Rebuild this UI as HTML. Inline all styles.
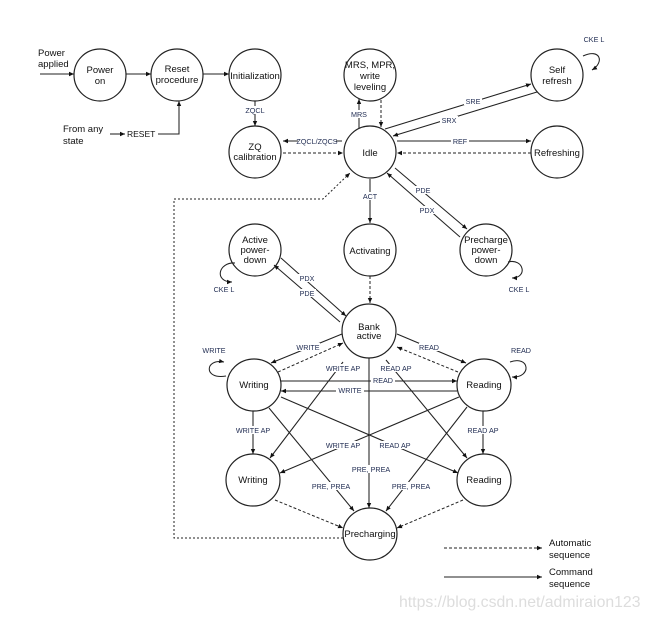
<!DOCTYPE html>
<html><head><meta charset="utf-8"><style>
html,body{margin:0;padding:0;background:#fff;}
svg text{font-family:"Liberation Sans",sans-serif;}
.s{font-size:9.5px;fill:#111;text-anchor:middle;}
.l{font-size:7.2px;fill:#1e2a50;text-anchor:middle;}
</style></head><body>
<svg width="651" height="619" viewBox="0 0 651 619" xmlns="http://www.w3.org/2000/svg">
<defs>
<marker id="a" markerWidth="6" markerHeight="6" refX="5" refY="3" orient="auto" markerUnits="userSpaceOnUse"><path d="M0,0.8 L5,3 L0,5.2 z" fill="#111"/></marker>
</defs>
<g fill="none" stroke="#222" stroke-width="1.2">
<ellipse cx="100" cy="75" rx="26" ry="26"/>
<ellipse cx="177" cy="75" rx="26" ry="26"/>
<ellipse cx="255" cy="75" rx="26" ry="26"/>
<ellipse cx="370" cy="75" rx="26" ry="26"/>
<ellipse cx="557" cy="75" rx="26" ry="26"/>
<ellipse cx="255" cy="152" rx="26" ry="26"/>
<ellipse cx="370" cy="152" rx="26" ry="26"/>
<ellipse cx="557" cy="152" rx="26" ry="26"/>
<ellipse cx="255" cy="250" rx="26" ry="26"/>
<ellipse cx="370" cy="250" rx="26" ry="26"/>
<ellipse cx="486" cy="250" rx="26" ry="26"/>
<ellipse cx="369" cy="331" rx="27" ry="27"/>
<ellipse cx="254" cy="385" rx="27" ry="26"/>
<ellipse cx="484" cy="385" rx="27" ry="26"/>
<ellipse cx="253" cy="480" rx="27" ry="26"/>
<ellipse cx="484" cy="480" rx="27" ry="26"/>
<ellipse cx="370" cy="534" rx="27" ry="26"/>
</g>
<g fill="none" stroke="#222" stroke-width="1.05" marker-end="url(#a)">
<line x1="40" y1="74" x2="74" y2="74"/>
<line x1="126" y1="74" x2="151" y2="74"/>
<line x1="203" y1="74" x2="229" y2="74"/>
<polyline points="110,134 125,134"/>
<polyline points="158,134 179,134 179,101"/>
<line x1="255" y1="101" x2="255" y2="126"/>
<line x1="342" y1="141" x2="283" y2="141"/>
<line x1="359" y1="128" x2="359" y2="99"/>
<line x1="385" y1="129" x2="531" y2="84"/>
<line x1="537" y1="92" x2="393" y2="136"/>
<line x1="397" y1="141" x2="531" y2="141"/>
<line x1="370" y1="179" x2="370" y2="223"/>
<line x1="395" y1="168" x2="467" y2="229"/>
<line x1="460" y1="237" x2="387" y2="173"/>
<line x1="281" y1="258" x2="346" y2="316"/>
<line x1="340" y1="322" x2="274" y2="265"/>
<line x1="342" y1="334" x2="271" y2="363"/>
<line x1="397" y1="334" x2="466" y2="363"/>
<line x1="281" y1="381" x2="457" y2="381"/>
<line x1="457" y1="391" x2="281" y2="391"/>
<line x1="369" y1="358" x2="369" y2="508"/>
<line x1="343" y1="362" x2="270" y2="458"/>
<line x1="386" y1="360" x2="467" y2="458"/>
<line x1="253" y1="411" x2="253" y2="454"/>
<line x1="483" y1="411" x2="483" y2="454"/>
<line x1="281" y1="397" x2="458" y2="473"/>
<line x1="459" y1="397" x2="280" y2="473"/>
<line x1="269" y1="408" x2="354" y2="511"/>
<line x1="467" y1="407" x2="386" y2="511"/>
<path d="M583,56 C600,48 605,62 592,70"/>
<path d="M508,262 C524,258 528,278 512,278"/>
<path d="M235,263 C218,262 214,282 232,282"/>
<path d="M226,376 C203,380 205,358 224,362"/>
<path d="M510,362 C530,355 532,378 512,377"/>
<line x1="444" y1="577" x2="542" y2="577"/>
</g>
<g fill="none" stroke="#222" stroke-width="1" stroke-dasharray="3,2" marker-end="url(#a)">
<line x1="283" y1="153" x2="343" y2="153"/>
<line x1="381" y1="100" x2="381" y2="127"/>
<line x1="531" y1="153" x2="397" y2="153"/>
<line x1="370" y1="276" x2="370" y2="303"/>
<line x1="278" y1="372" x2="343" y2="343"/>
<line x1="458" y1="372" x2="397" y2="347"/>
<line x1="275" y1="500" x2="343" y2="528"/>
<line x1="463" y1="500" x2="397" y2="528"/>
<polyline stroke-dasharray="2,2" points="343,538 174,538 174,199 323,199 350,173"/>
<line x1="444" y1="548" x2="542" y2="548"/>
</g>
<g fill="#fff">
<rect x="243" y="106" width="24" height="8"/>
<rect x="298" y="137" width="38" height="8"/>
<rect x="350" y="110" width="18" height="8"/>
<rect x="464" y="97" width="18" height="8"/>
<rect x="440" y="116" width="18" height="8"/>
<rect x="451" y="137" width="18" height="8"/>
<rect x="361" y="192" width="18" height="8"/>
<rect x="414" y="186" width="18" height="8"/>
<rect x="418" y="206" width="18" height="8"/>
<rect x="298" y="274" width="18" height="8"/>
<rect x="298" y="289" width="18" height="8"/>
<rect x="296" y="343" width="24" height="8"/>
<rect x="419" y="343" width="20" height="8"/>
<rect x="371" y="376" width="24" height="8"/>
<rect x="336" y="386" width="28" height="8"/>
<rect x="327" y="364" width="32" height="8"/>
<rect x="380" y="364" width="32" height="8"/>
<rect x="235" y="426" width="36" height="8"/>
<rect x="467" y="426" width="32" height="8"/>
<rect x="325" y="441" width="36" height="8"/>
<rect x="378" y="441" width="34" height="8"/>
<rect x="351" y="465" width="38" height="8"/>
<rect x="310" y="482" width="42" height="8"/>
<rect x="390" y="482" width="42" height="8"/>
<rect x="127" y="130" width="22" height="9"/>
</g>
<g class="s">
<text x="100" y="73">Power</text><text x="100" y="84">on</text>
<text x="177" y="72">Reset</text><text x="177" y="83">procedure</text>
<text x="255" y="79">Initialization</text>
<text x="370" y="68">MRS, MPR,</text><text x="370" y="79">write</text><text x="370" y="90">leveling</text>
<text x="557" y="73">Self</text><text x="557" y="84">refresh</text>
<text x="255" y="150">ZQ</text><text x="255" y="160">calibration</text>
<text x="370" y="156">Idle</text>
<text x="557" y="156">Refreshing</text>
<text x="255" y="243">Active</text><text x="255" y="253">power-</text><text x="255" y="263">down</text>
<text x="370" y="254">Activating</text>
<text x="486" y="243">Precharge</text><text x="486" y="253">power-</text><text x="486" y="263">down</text>
<text x="369" y="330">Bank</text><text x="369" y="339">active</text>
<text x="254" y="388">Writing</text>
<text x="484" y="388">Reading</text>
<text x="253" y="483">Writing</text>
<text x="484" y="483">Reading</text>
<text x="370" y="537">Precharging</text>
</g>
<g style="font-size:9.5px;fill:#111">
<text x="38" y="56">Power</text><text x="38" y="67">applied</text>
<text x="63" y="132">From any</text><text x="63" y="144">state</text>
<text x="549" y="546">Automatic</text><text x="549" y="558">sequence</text>
<text x="549" y="575">Command</text><text x="549" y="587">sequence</text>
<text x="127" y="137" style="font-size:8.5px">RESET</text>
</g>
<g class="l">
<text x="255" y="113">ZQCL</text>
<text x="317" y="144">ZQCL/ZQCS</text>
<text x="359" y="117">MRS</text>
<text x="473" y="104">SRE</text>
<text x="449" y="123">SRX</text>
<text x="460" y="144">REF</text>
<text x="594" y="42">CKE L</text>
<text x="370" y="199">ACT</text>
<text x="423" y="193">PDE</text>
<text x="427" y="213">PDX</text>
<text x="519" y="292">CKE L</text>
<text x="224" y="292">CKE L</text>
<text x="307" y="281">PDX</text>
<text x="307" y="296">PDE</text>
<text x="308" y="350">WRITE</text>
<text x="429" y="350">READ</text>
<text x="214" y="353">WRITE</text>
<text x="521" y="353">READ</text>
<text x="383" y="383">READ</text>
<text x="350" y="393">WRITE</text>
<text x="343" y="371">WRITE AP</text>
<text x="396" y="371">READ AP</text>
<text x="253" y="433">WRITE AP</text>
<text x="483" y="433">READ AP</text>
<text x="343" y="448">WRITE AP</text>
<text x="395" y="448">READ AP</text>
<text x="371" y="472">PRE, PREA</text>
<text x="331" y="489">PRE,  PREA</text>
<text x="411" y="489">PRE,  PREA</text>
</g>
<text x="399" y="607" style="font-size:15.8px;fill:#ddd">https://blog.csdn.net/admiraion123</text>
</svg>
</body></html>
